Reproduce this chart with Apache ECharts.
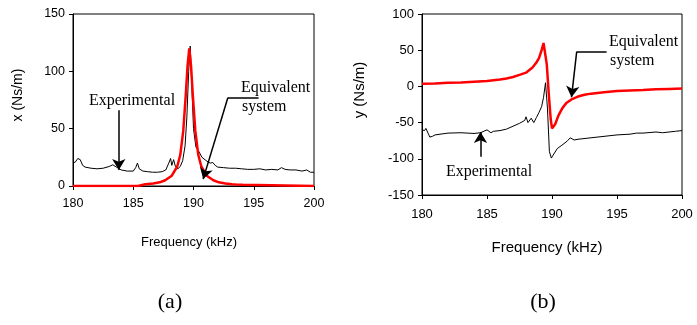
<!DOCTYPE html>
<html>
<head>
<meta charset="utf-8">
<script src="https://cdn.jsdelivr.net/npm/echarts@6/dist/echarts.min.js"></script>
<style>
  html, body { margin: 0; padding: 0; background: #fff; }
  #main { width: 697px; height: 325px; }
</style>
</head>
<body>
<div id="main"></div>
<script>
// (a) x (Ns/m) - experimental
var aExpFreq = [180.0, 180.2, 180.4, 180.6, 180.8, 181.0, 181.5, 182.0, 182.5, 183.0, 183.3, 183.6, 184.0, 184.5, 185.0, 185.2, 185.35, 185.5, 185.8, 186.2, 186.6, 187.0, 187.4, 187.7, 187.95, 188.1, 188.2, 188.35, 188.5, 188.7, 188.9, 189.1, 189.3, 189.45, 189.6, 189.73, 189.85, 190.0, 190.2, 190.45, 190.7, 191.0, 191.2, 191.4, 191.6, 191.8, 192.0, 192.5, 193.0, 193.5, 194.0, 194.5, 195.0, 195.5, 196.0, 196.5, 197.0, 197.3, 197.6, 198.0, 198.5, 199.0, 199.4, 199.7, 200.0];
var aExpVal = [20, 21, 24, 23, 18, 16.5, 15.5, 15, 15.5, 17, 18.5, 16.5, 14, 13, 13, 16, 20, 15, 13, 12.5, 12, 12, 12.5, 14, 20, 24, 18, 23, 17, 15, 17, 22, 35, 60, 100, 122, 90, 50, 34, 30, 25, 22.5, 21, 20, 20.5, 18, 16.5, 16, 15.5, 15.5, 15, 14.5, 14.5, 15, 14, 14.5, 14, 16, 14.5, 14, 14, 13, 14, 12, 12];
// (a) equivalent system
var aEqFreq = [180, 185.4, 185.5, 186.0, 186.65, 187.2, 187.65, 188.2, 188.65, 188.9, 189.15, 189.35, 189.5, 189.65, 189.8, 189.95, 190.15, 190.4, 190.65, 191.1, 191.65, 192.1, 192.65, 193.2, 193.65, 194.1, 194.2, 200];
var aEqVal = [0, 0, 1, 1.5, 2.2, 3.2, 5, 9, 17, 27, 48, 78, 104, 120, 104, 78, 48, 27, 17, 9, 5, 3.2, 2.2, 1.5, 1.2, 1, 0, 0];

// (b) y (Ns/m) - experimental
var bExpFreq = [180.0, 180.2, 180.3, 180.5, 180.6, 180.8, 181.0, 182.0, 183.0, 184.0, 184.5, 185.0, 185.1, 185.3, 185.5, 186.0, 186.5, 187.0, 187.5, 187.9, 188.0, 188.15, 188.4, 188.6, 188.8, 189.0, 189.2, 189.35, 189.5, 189.55, 189.65, 189.8, 189.95, 190.05, 190.2, 190.4, 190.7, 191.0, 191.2, 191.4, 191.7, 192.0, 193.0, 194.0, 195.0, 196.0, 196.5, 197.0, 198.0, 198.5, 199.0, 199.5, 200.0];
var bExpVal = [-60, -61, -58, -66, -70, -69, -67, -64.5, -64, -65, -64, -60, -58, -64, -62, -61, -59, -55, -51, -47, -42, -50, -44, -50, -43, -36, -28, -15, 5, 5, -30, -90, -99, -96, -95, -86, -82, -78, -75, -71, -74, -73, -71, -69, -67, -66, -64.5, -64.5, -63, -64, -63, -62, -61];
// (b) equivalent system
var bEqFreq = [180, 181, 182, 183, 184, 185, 186, 186.5, 187, 187.5, 188, 188.5, 188.8, 189.0, 189.2, 189.35, 189.45, 189.6, 189.75, 189.9, 190.0, 190.1, 190.25, 190.5, 190.8, 191.1, 191.5, 192, 192.5, 193, 194, 195, 196, 197, 198, 199, 200];
var bEqVal = [3.5, 4, 5, 5.5, 6.5, 7.5, 9.5, 11, 13, 16, 19, 26, 33, 39, 50, 60, 58, 30, -10, -45, -58, -60, -52, -40, -30, -23, -18, -14, -11.5, -10, -8, -6.5, -5.5, -5, -4, -3.5, -3];

var xTicks = [180, 185, 190, 195, 200];
var aYTicks = [0, 50, 100, 150];
var bYTicks = [-150, -100, -50, 0, 50, 100];

function pairs(xs, ys) {
  var out = [];
  for (var i = 0; i < xs.length; i++) out.push([xs[i], ys[i]]);
  return out;
}

function axisX(idx) {
  return {
    type: 'value', gridIndex: idx,
    min: xTicks[0], max: xTicks[xTicks.length - 1], interval: 5,
    axisLine: { onZero: false, lineStyle: { color: '#000', width: 1 } },
    axisTick: { inside: false, length: 4, lineStyle: { color: '#000' } },
    axisLabel: { color: '#000', fontFamily: 'Liberation Sans, Arial', fontSize: idx === 0 ? 12.5 : 13, margin: idx === 0 ? 11 : 13 },
    splitLine: { show: false }
  };
}

function axisY(idx, ticks) {
  return {
    type: 'value', gridIndex: idx,
    min: ticks[0], max: ticks[ticks.length - 1], interval: 50,
    axisLine: { show: true, onZero: false, lineStyle: { color: '#000', width: 1 } },
    axisTick: { show: true, inside: false, length: 4, lineStyle: { color: '#000' } },
    axisLabel: { color: '#000', fontFamily: 'Liberation Sans, Arial', fontSize: idx === 0 ? 12.5 : 13, margin: 8 },
    splitLine: { show: false }
  };
}

var arrowStyle = { color: '#000', width: 1.5, type: 'solid' };

var chart = echarts.init(document.getElementById('main'));

var option = {
  animation: false,
  backgroundColor: '#fff',
  grid: [
    { left: 73, top: 14, width: 241, height: 172, show: true, borderColor: '#000', borderWidth: 1, backgroundColor: 'transparent' },
    { left: 422, top: 14, width: 260, height: 181, show: true, borderColor: '#000', borderWidth: 1, backgroundColor: 'transparent' }
  ],
  xAxis: [axisX(0), axisX(1)],
  yAxis: [axisY(0, aYTicks), axisY(1, bYTicks)],
  series: [
    {
      name: 'Experimental (a)', type: 'line', xAxisIndex: 0, yAxisIndex: 0,
      data: pairs(aExpFreq, aExpVal), showSymbol: false,
      lineStyle: { color: '#000', width: 1 }, z: 2,
      markLine: {
        silent: true, animation: false, label: { show: false }, lineStyle: arrowStyle,
        symbol: ['none', 'arrow'], symbolSize: [10, 11],
        data: [
          [{ coord: [183.8, 66] }, { coord: [183.8, 14] }],
          [{ coord: [192.85, 77], symbol: 'none' }, { coord: [195.4, 77], symbol: 'none' }],
          [{ coord: [192.85, 77] }, { coord: [190.8, 6] }]
        ]
      }
    },
    {
      name: 'Equivalent system (a)', type: 'line', xAxisIndex: 0, yAxisIndex: 0,
      data: pairs(aEqFreq, aEqVal), showSymbol: false,
      lineStyle: { color: '#ff0000', width: 2.5 }, z: 3
    },
    {
      name: 'Experimental (b)', type: 'line', xAxisIndex: 1, yAxisIndex: 1,
      data: pairs(bExpFreq, bExpVal), showSymbol: false,
      lineStyle: { color: '#000', width: 1 }, z: 2,
      markLine: {
        silent: true, animation: false, label: { show: false }, lineStyle: arrowStyle,
        symbol: ['none', 'arrow'], symbolSize: [10, 11],
        data: [
          [{ coord: [184.5, -97] }, { coord: [184.5, -63] }],
          [{ coord: [191.9, 48], symbol: 'none' }, { coord: [194.2, 48], symbol: 'none' }],
          [{ coord: [191.9, 48] }, { coord: [191.5, -15] }]
        ]
      }
    },
    {
      name: 'Equivalent system (b)', type: 'line', xAxisIndex: 1, yAxisIndex: 1,
      data: pairs(bEqFreq, bEqVal), showSymbol: false,
      lineStyle: { color: '#ff0000', width: 2.5 }, z: 3
    }
  ],
  graphic: [
    { type: 'text', x: 18, y: 95, rotation: Math.PI / 2, style: { text: 'x (Ns/m)', font: '14px "Liberation Sans", Arial', fill: '#000', align: 'center', verticalAlign: 'middle' } },
    { type: 'text', x: 360, y: 90, rotation: Math.PI / 2, style: { text: 'y (Ns/m)', font: '15px "Liberation Sans", Arial', fill: '#000', align: 'center', verticalAlign: 'middle' } },
    { type: 'text', x: 189, y: 242, style: { text: 'Frequency (kHz)', font: '13px "Liberation Sans", Arial', fill: '#000', align: 'center', verticalAlign: 'middle' } },
    { type: 'text', x: 547, y: 248, style: { text: 'Frequency (kHz)', font: '15px "Liberation Sans", Arial', fill: '#000', align: 'center', verticalAlign: 'middle' } },
    { type: 'text', x: 170, y: 302, style: { text: '(a)', font: '22px "Liberation Serif", "Times New Roman"', fill: '#000', align: 'center', verticalAlign: 'middle' } },
    { type: 'text', x: 543, y: 302, style: { text: '(b)', font: '22px "Liberation Serif", "Times New Roman"', fill: '#000', align: 'center', verticalAlign: 'middle' } },
    { type: 'text', x: 132, y: 101, z: 10, style: { text: 'Experimental', font: '16px "Liberation Serif", "Times New Roman"', fill: '#000', align: 'center', verticalAlign: 'middle' } },
    { type: 'text', x: 241, y: 88, z: 10, style: { text: 'Equivalent', font: '16px "Liberation Serif", "Times New Roman"', fill: '#000', align: 'left', verticalAlign: 'middle' } },
    { type: 'text', x: 242, y: 107, z: 10, style: { text: 'system', font: '16px "Liberation Serif", "Times New Roman"', fill: '#000', align: 'left', verticalAlign: 'middle' } },
    { type: 'text', x: 609, y: 42, z: 10, style: { text: 'Equivalent', font: '16px "Liberation Serif", "Times New Roman"', fill: '#000', align: 'left', verticalAlign: 'middle' } },
    { type: 'text', x: 610, y: 61, z: 10, style: { text: 'system', font: '16px "Liberation Serif", "Times New Roman"', fill: '#000', align: 'left', verticalAlign: 'middle' } },
    { type: 'text', x: 489, y: 172, z: 10, style: { text: 'Experimental', font: '16px "Liberation Serif", "Times New Roman"', fill: '#000', align: 'center', verticalAlign: 'middle' } }
  ]
};

chart.setOption(option);
</script>
</body>
</html>
